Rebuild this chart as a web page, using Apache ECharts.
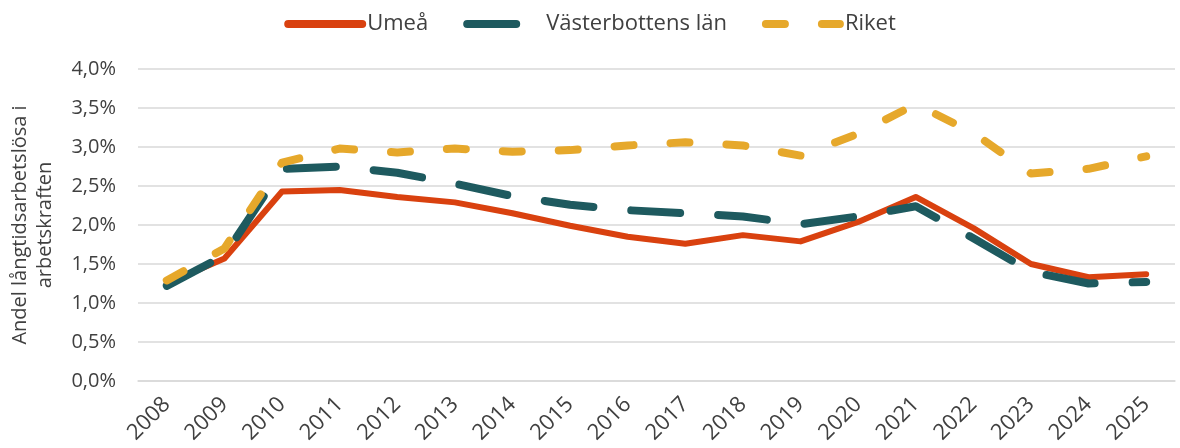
<!DOCTYPE html>
<html>
<head>
<meta charset="utf-8">
<script src="https://cdn.jsdelivr.net/npm/echarts@6/dist/echarts.min.js"></script>
<style>
  html, body { margin: 0; padding: 0; background: #fff; }
  #chart { width: 1180px; height: 448px; }
</style>
</head>
<body>
<div id="chart"></div>
<script>
// år på x-axeln
const years = ['2008', '2009', '2010', '2011', '2012', '2013', '2014', '2015', '2016',
  '2017', '2018', '2019', '2020', '2021', '2022', '2023', '2024', '2025']

// andel långtidsarbetslösa, procent
const umea = [1.25, 1.57, 2.43, 2.45, 2.36, 2.29, 2.15, 1.99, 1.85,
  1.76, 1.87, 1.79, 2.04, 2.36, 1.96, 1.50, 1.33, 1.37]
const vasterbotten = [1.22, 1.61, 2.72, 2.75, 2.67, 2.53, 2.37, 2.26, 2.19,
  2.15, 2.11, 2.01, 2.11, 2.24, 1.83, 1.40, 1.25, 1.27]
const riket = [1.29, 1.70, 2.80, 2.98, 2.93, 2.98, 2.94, 2.96, 3.02,
  3.06, 3.02, 2.89, 3.17, 3.55, 3.18, 2.66, 2.72, 2.88]

const textColor = '#404040'
const font = 'Open Sans'

const chart = echarts.init(document.getElementById('chart'))

chart.setOption({
  animation: false,
  backgroundColor: '#fff',
  textStyle: { fontFamily: font },
  legend: {
    top: 8,
    left: 'center',
    itemWidth: 74,
    itemHeight: 10,
    itemGap: 35,
    itemStyle: { opacity: 0 },
    lineStyle: { width: 8, cap: 'round' },
    textStyle: { color: textColor, fontSize: 22, fontFamily: font },
    data: ['Umeå', 'Västerbottens län', 'Riket']
  },
  grid: { left: 138, right: 5, top: 69, bottom: 67 },
  xAxis: {
    type: 'category',
    data: years,
    boundaryGap: true,
    axisLine: { lineStyle: { color: '#d9d9d9', width: 1.5 } },
    axisTick: { show: false },
    axisLabel: {
      rotate: 45,
      margin: 20,
      interval: 0,
      color: textColor,
      fontSize: 22,
      fontFamily: font
    }
  },
  yAxis: {
    type: 'value',
    min: 0,
    max: 4,
    interval: 0.5,
    name: 'Andel långtidsarbetslösa i\narbetskraften',
    nameLocation: 'middle',
    nameRotate: 90,
    nameGap: 80,
    nameTextStyle: { color: textColor, fontSize: 20, lineHeight: 25, fontFamily: font },
    axisLine: { show: false },
    axisTick: { show: false },
    axisLabel: {
      margin: 22,
      color: textColor,
      fontSize: 20,
      fontFamily: font,
      formatter: v => v.toFixed(1).replace('.', ',') + '%'
    },
    splitLine: { lineStyle: { color: '#d9d9d9', width: 1.5 } }
  },
  series: [
    {
      name: 'Umeå',
      type: 'line',
      data: umea,
      symbol: 'none',
      itemStyle: { color: '#d9410f' },
      lineStyle: { color: '#d9410f', width: 6, cap: 'round', join: 'round' }
    },
    {
      name: 'Västerbottens län',
      type: 'line',
      data: vasterbotten,
      symbol: 'none',
      itemStyle: { color: '#1e5a5f' },
      lineStyle: { color: '#1e5a5f', width: 8, type: [49, 38], cap: 'round', join: 'round' }
    },
    {
      name: 'Riket',
      type: 'line',
      data: riket,
      symbol: 'none',
      itemStyle: { color: '#e6a82b' },
      lineStyle: { color: '#e6a82b', width: 8, type: [19, 37], cap: 'round', join: 'round' }
    }
  ]
})
</script>
</body>
</html>
